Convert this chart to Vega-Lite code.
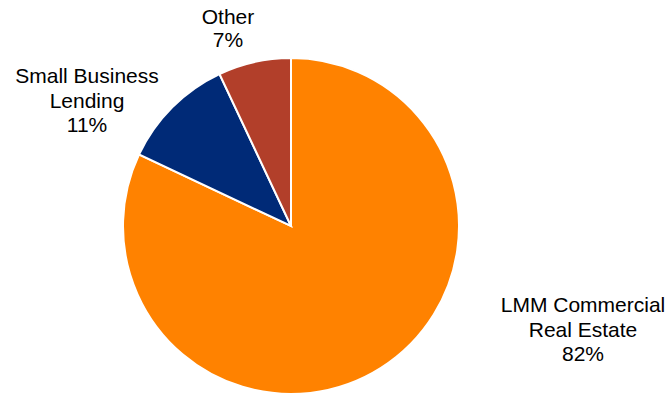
{
  "$schema": "https://vega.github.io/schema/vega-lite/v6.json",
  "width": 582,
  "height": 336,
  "autosize": {"type": "none"},
  "padding": {"left": 0, "top": 58, "right": 89, "bottom": 0},
  "background": "white",
  "config": {"view": {"stroke": null}, "font": "Liberation Sans"},
  "data": {
    "values": [
      {"segment": "LMM Commercial Real Estate", "label": "LMM Commercial\nReal Estate\n82%", "share": 82, "order": 1},
      {"segment": "Small Business Lending", "label": "Small Business\nLending\n11%", "share": 11, "order": 2},
      {"segment": "Other", "label": "Other\n7%", "share": 7, "order": 3}
    ]
  },
  "transform": [
    {"stack": "share", "groupby": [], "sort": [{"field": "order", "order": "ascending"}], "as": ["t0", "t1"]}
  ],
  "layer": [
    {
      "mark": {"type": "arc", "stroke": "white", "strokeWidth": 2},
      "encoding": {
        "theta": {"field": "t0", "type": "quantitative", "scale": {"domain": [0, 100]}},
        "theta2": {"field": "t1"},
        "color": {
          "field": "segment",
          "type": "nominal",
          "scale": {
            "domain": ["LMM Commercial Real Estate", "Small Business Lending", "Other"],
            "range": ["#FF8200", "#002A77", "#B23F2A"]
          },
          "legend": null
        }
      }
    },
    {
      "transform": [{"filter": "datum.order == 1"}],
      "mark": {"type": "text", "dx": 292, "dy": 80, "fontSize": 21, "lineBreak": "\n", "lineHeight": 24.5, "color": "black", "align": "center", "baseline": "middle"},
      "encoding": {"text": {"field": "label"}}
    },
    {
      "transform": [{"filter": "datum.order == 2"}],
      "mark": {"type": "text", "dx": -204, "dy": -149, "fontSize": 21, "lineBreak": "\n", "lineHeight": 24.5, "color": "black", "align": "center", "baseline": "middle"},
      "encoding": {"text": {"field": "label"}}
    },
    {
      "transform": [{"filter": "datum.order == 3"}],
      "mark": {"type": "text", "dx": -63, "dy": -208, "fontSize": 21, "lineBreak": "\n", "lineHeight": 23, "color": "black", "align": "center", "baseline": "middle"},
      "encoding": {"text": {"field": "label"}}
    }
  ]
}
